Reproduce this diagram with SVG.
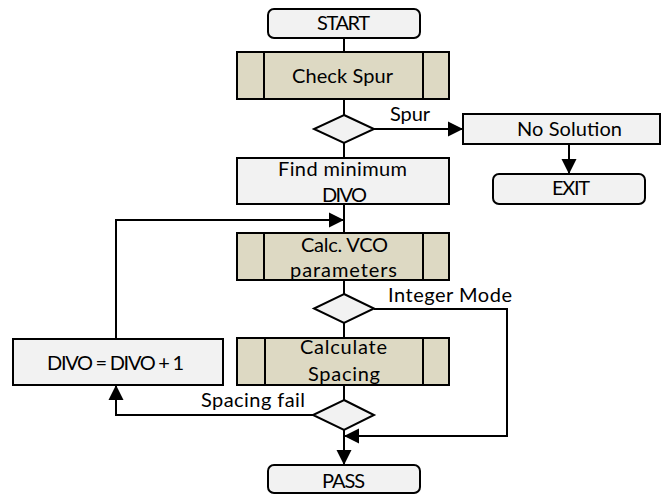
<svg xmlns="http://www.w3.org/2000/svg" width="665" height="494" viewBox="0 0 665 494">
  <defs>
    <marker id="arrow" markerUnits="userSpaceOnUse" markerWidth="16" markerHeight="16" viewBox="0 0 16 16" refX="15" refY="8" orient="auto">
      <path d="M0,0.5 L15,8 L0,15.5 Z" fill="#000"/>
    </marker>
    <style>
      .proc { fill: #f2f2f2; stroke: #000; stroke-width: 2; }
      .pre { fill: #ddd9c3; stroke: #000; stroke-width: 2; }
      .term { fill: #f2f2f2; stroke: #000; stroke-width: 2; }
      .dec { fill: #f2f2f2; stroke: #000; stroke-width: 2; }
      .bar { stroke: #000; stroke-width: 2; fill: none; }
      .conn { stroke: #000; stroke-width: 2; fill: none; }
      .arr { marker-end: url(#arrow); }
      text { font-family: Lato, "Open Sans", "Liberation Sans", sans-serif; font-size: 20px; fill: #000; }
    </style>
  </defs>
  <rect width="665" height="494" fill="#fff"/>

  <!-- connectors -->
  <g id="connectors">
    <line class="conn" x1="344" y1="38" x2="344" y2="52"/>
    <line class="conn" x1="344" y1="99" x2="344" y2="115"/>
    <line class="conn arr" x1="374" y1="129" x2="463" y2="129"/>
    <line class="conn arr" x1="569" y1="144" x2="569" y2="174"/>
    <line class="conn" x1="344" y1="143" x2="344" y2="158"/>
    <line class="conn" x1="344" y1="204" x2="344" y2="233"/>
    <polyline class="conn arr" points="116,339 116,220 344,220"/>
    <line class="conn" x1="344" y1="280" x2="344" y2="294"/>
    <polyline class="conn arr" points="374,309 507,309 507,436 344,436"/>
    <line class="conn" x1="344" y1="323" x2="344" y2="338"/>
    <line class="conn" x1="344" y1="385" x2="344" y2="400"/>
    <polyline class="conn arr" points="313,415 116,415 116,385"/>
    <line class="conn arr" x1="344" y1="430" x2="344" y2="465"/>
    <text x="390" y="121" textLength="40" lengthAdjust="spacing">Spur</text>
    <text x="388" y="302" textLength="124" lengthAdjust="spacing">Integer Mode</text>
    <text x="201" y="407" textLength="104" lengthAdjust="spacing">Spacing fail</text>
  </g>

  <g id="start">
    <rect class="term" x="268" y="9" width="152" height="29" rx="6"/>
    <text x="317" y="30" textLength="53" lengthAdjust="spacing">START</text>
  </g>

  <g id="check-spur">
    <rect class="pre" x="237" y="52" width="212" height="47"/>
    <line class="bar" x1="264" y1="52" x2="264" y2="99"/>
    <line class="bar" x1="423" y1="52" x2="423" y2="99"/>
    <text x="292" y="83" textLength="101" lengthAdjust="spacing">Check Spur</text>
  </g>

  <g id="spur-decision">
    <polygon class="dec" points="344,115 374,129 344,143 314,129"/>
  </g>

  <g id="no-solution">
    <rect class="proc" x="463" y="114" width="197" height="30"/>
    <text x="517" y="136" textLength="105" lengthAdjust="spacing">No Solution</text>
  </g>

  <g id="exit">
    <rect class="term" x="493" y="174" width="152" height="30" rx="6"/>
    <text x="552" y="195" textLength="38" lengthAdjust="spacing">EXIT</text>
  </g>

  <g id="find-min-divo">
    <rect class="proc" x="237" y="158" width="212" height="46"/>
    <text x="278" y="176" textLength="129" lengthAdjust="spacing">Find minimum</text>
    <text x="322" y="202" textLength="45" lengthAdjust="spacing">DIVO</text>
  </g>

  <g id="calc-vco">
    <rect class="pre" x="237" y="233" width="212" height="47"/>
    <line class="bar" x1="264" y1="233" x2="264" y2="280"/>
    <line class="bar" x1="423" y1="233" x2="423" y2="280"/>
    <text x="301" y="252" textLength="87" lengthAdjust="spacing">Calc. VCO</text>
    <text x="290" y="277" textLength="107" lengthAdjust="spacing">parameters</text>
  </g>

  <g id="mode-decision">
    <polygon class="dec" points="344,294 374,308.5 344,323 314,308.5"/>
  </g>

  <g id="calc-spacing">
    <rect class="pre" x="237" y="338" width="212" height="47"/>
    <line class="bar" x1="265" y1="338" x2="265" y2="385"/>
    <line class="bar" x1="423" y1="338" x2="423" y2="385"/>
    <text x="300" y="354" textLength="87" lengthAdjust="spacing">Calculate</text>
    <text x="308" y="381" textLength="72" lengthAdjust="spacing">Spacing</text>
  </g>

  <g id="divo-increment">
    <rect class="proc" x="13" y="339" width="210" height="46"/>
    <text x="47" y="370" textLength="137" lengthAdjust="spacing">DIVO = DIVO + 1</text>
  </g>

  <g id="spacing-decision">
    <polygon class="dec" points="344,400 374,415 344,430 313,415"/>
  </g>

  <g id="pass">
    <rect class="term" x="268" y="465" width="152" height="28" rx="6"/>
    <text x="322" y="488" textLength="43" lengthAdjust="spacing">PASS</text>
  </g>
</svg>
